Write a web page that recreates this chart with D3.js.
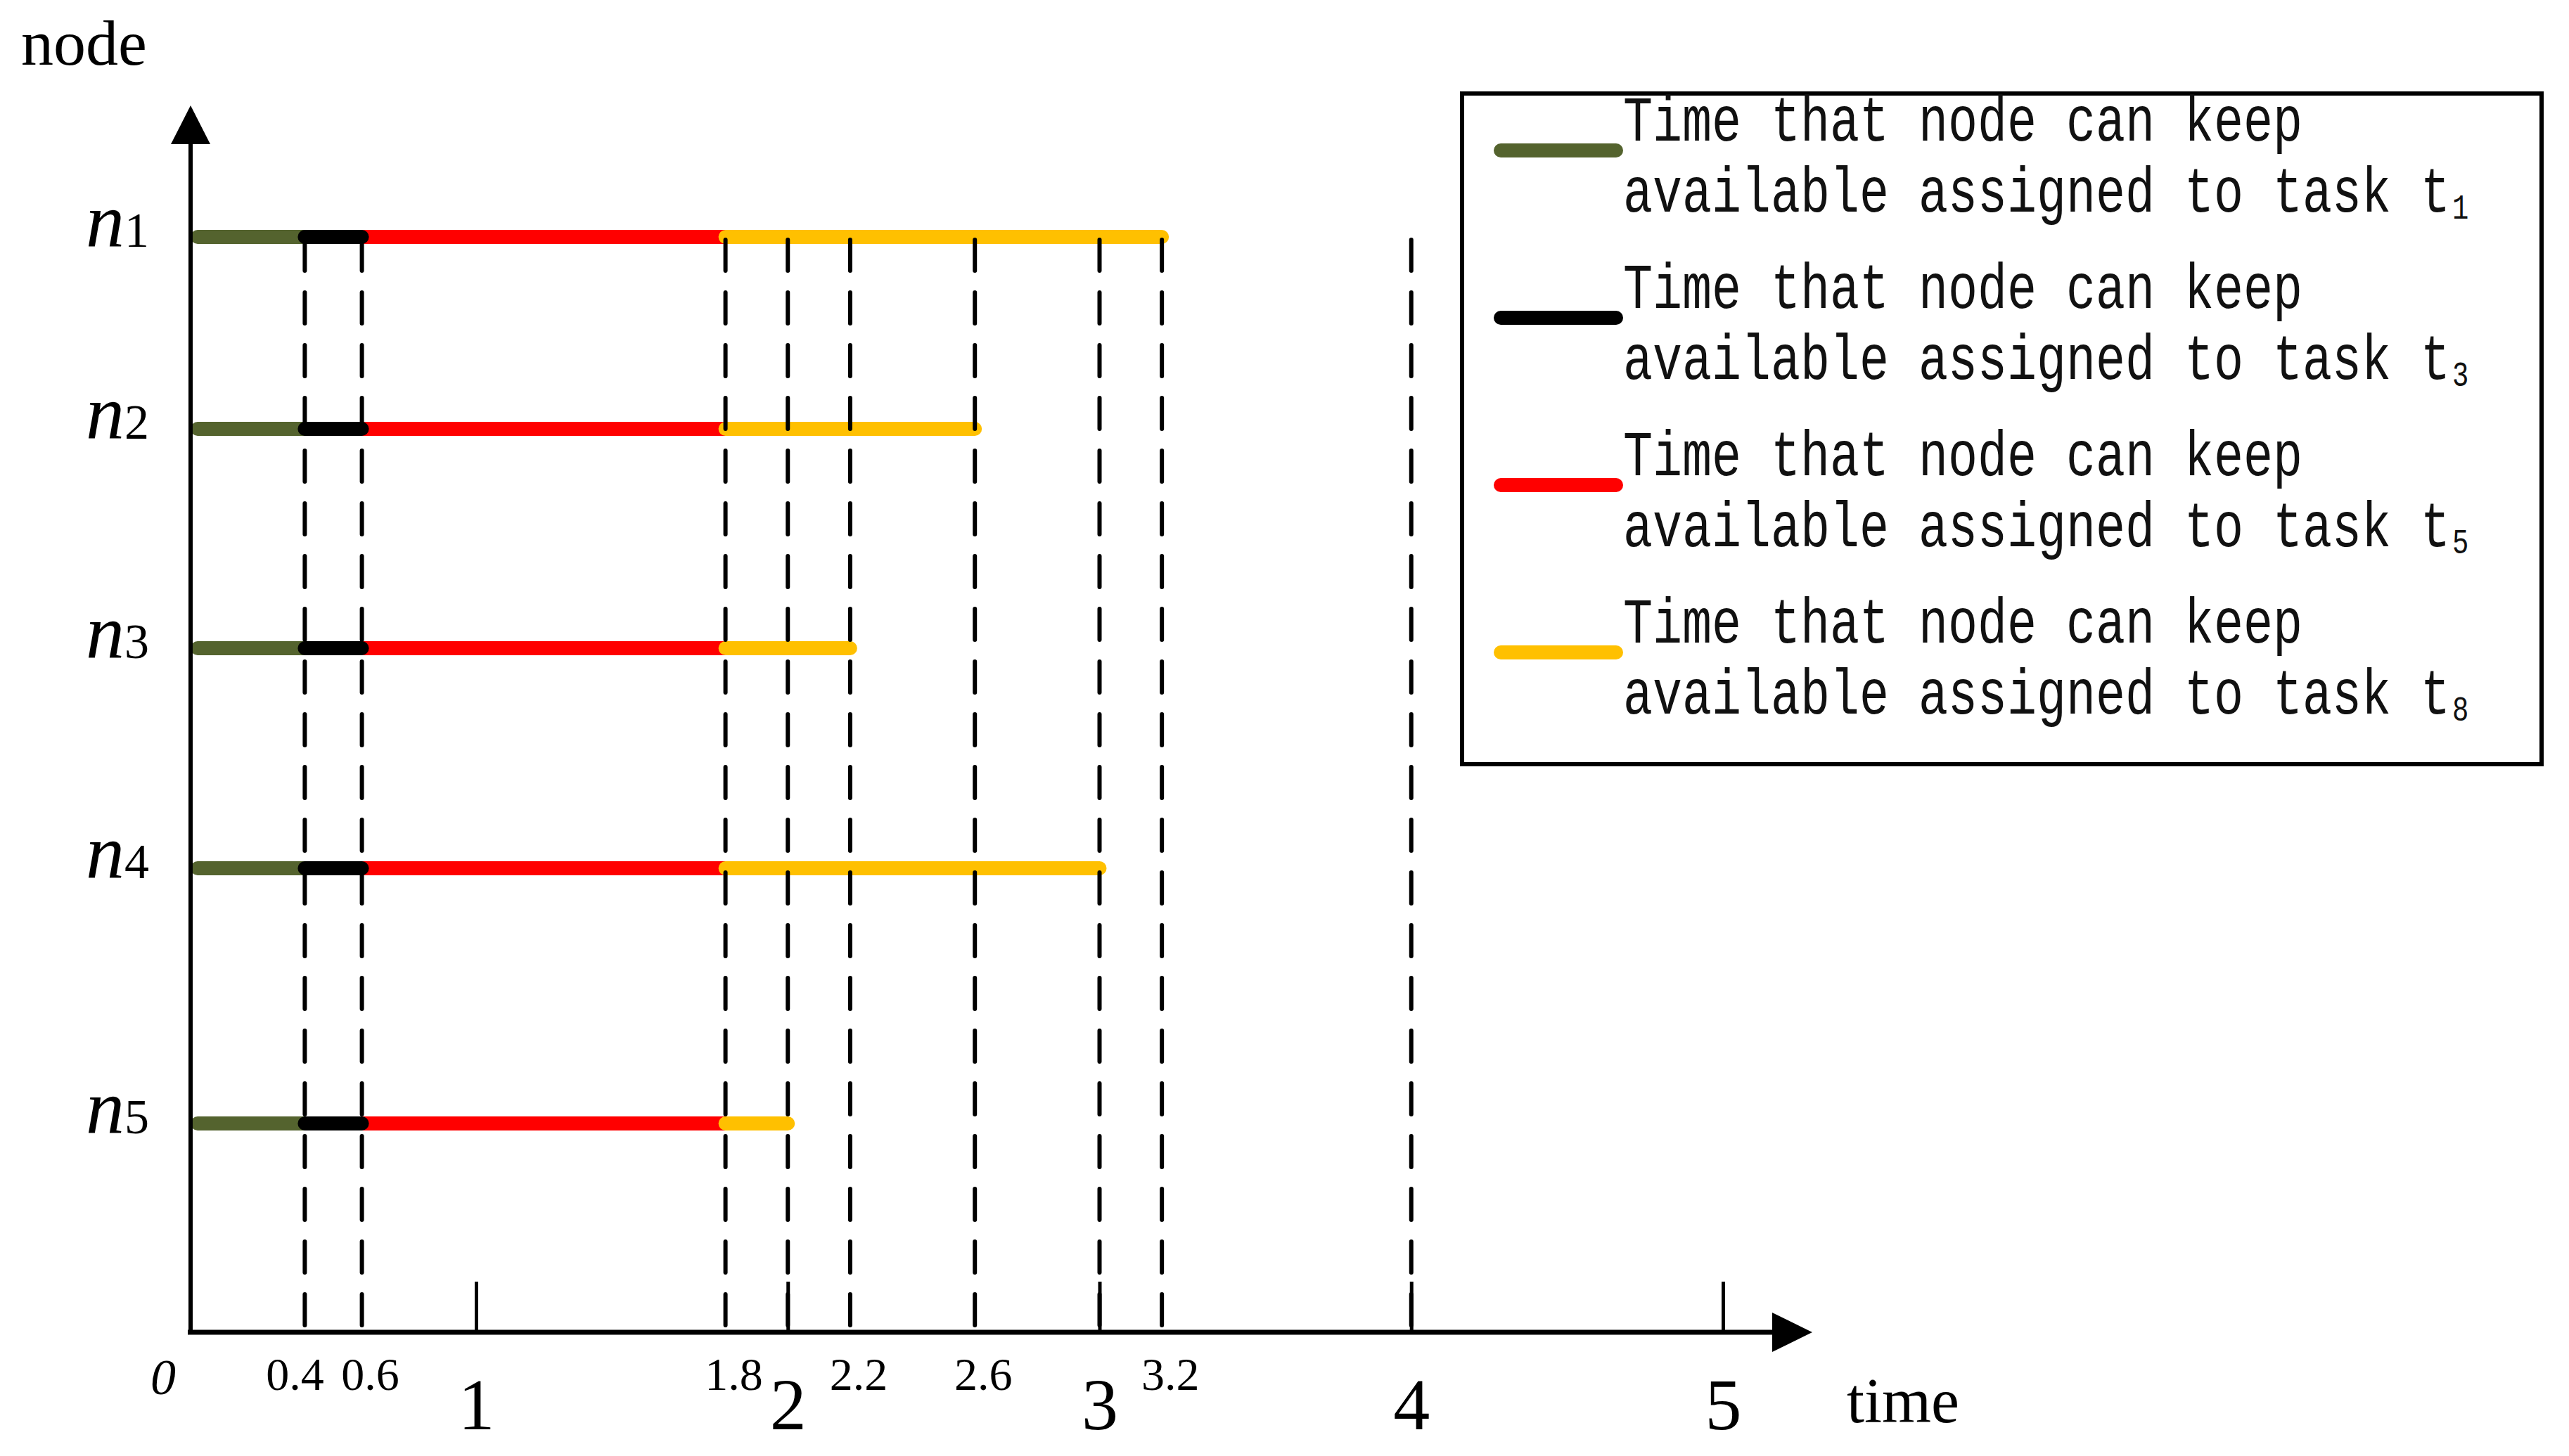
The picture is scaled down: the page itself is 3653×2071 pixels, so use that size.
<!DOCTYPE html>
<html><head><meta charset="utf-8">
<script src="https://cdn.jsdelivr.net/npm/d3@7"></script>
<style>html,body{margin:0;padding:0;background:#fff;overflow:hidden}</style>
</head><body><svg id="chart"></svg>
<script>
// ---------- data ----------
const nodes = ["n1","n2","n3","n4","n5"];
const nodeNumbers = ["1","2","3","4","5"];
const tasks = ["t1","t3","t5","t8"];
const taskSubs = ["1","3","5","8"];
const t1End = [0.4,0.4,0.4,0.4,0.4];
const t3End = [0.6,0.6,0.6,0.6,0.6];
const t5End = [1.8,1.8,1.8,1.8,1.8];
const t8End = [3.2,2.6,2.2,3.0,2.0];
const markTimes = [0.4,0.6,1.8,2,2.2,2.6,3,3.2,4];
const majorTicks = [1,2,3,4,5];
const minorLabels = [0.4,0.6,1.8,2.2,2.6,3.2];
const legendLine1 = "Time that node can keep";
const legendLine2 = "available assigned to task t";

// ---------- style / layout ----------
const W = 3653, H = 2071;
const taskColors = ["#54632e","#000000","#ff0000","#ffc000"];
const drawOrder = [0,2,1,3];
const axisY = 1895, axisX0 = 271;
const rowPositions = [337, 610, 922, 1235, 1598];   // hand-drawn row layout
const serif = "'Liberation Serif','Times New Roman',serif";
const mono = "'Liberation Mono','Courier New',monospace";

const svg = d3.select("#chart").attr("width", W).attr("height", H)
  .style("background","#fff");

// hand-drawn axis: first unit slightly shorter than the rest
const x = d3.scaleLinear().domain([0,1,5]).range([axisX0, 677, 2450]);
const y = d3.scaleOrdinal().domain(nodes).range(rowPositions);

// ---------- bars ----------
const segs = [];
nodes.forEach((n,i) => {
  const starts = [0, t1End[i], t3End[i], t5End[i]];
  const ends = [t1End[i], t3End[i], t5End[i], t8End[i]];
  drawOrder.forEach(k => segs.push({node:n, k, s:starts[k], e:ends[k]}));
});
svg.append("g").selectAll("line").data(segs).join("line")
  .attr("x1", d => d.s === 0 ? x(d.s) + 10 : x(d.s))
  .attr("x2", d => x(d.e))
  .attr("y1", d => y(d.node)).attr("y2", d => y(d.node))
  .attr("stroke", d => taskColors[d.k])
  .attr("stroke-width", 20)
  .attr("stroke-linecap", "round");

// ---------- dashed guide lines ----------
svg.append("g").selectAll("line").data(markTimes).join("line")
  .attr("x1", d => x(d)).attr("x2", d => x(d))
  .attr("y1", y("n1") + 4).attr("y2", d => d === 2.2 ? axisY + 16 : axisY)
  .attr("stroke", "#000").attr("stroke-width", 6)
  .attr("stroke-linecap", "round")
  .attr("stroke-dasharray", "44,31");

// ---------- x axis ----------
const gx = svg.append("g").attr("transform", `translate(0,${axisY})`)
  .call(d3.axisBottom(x).tickValues(majorTicks).tickSizeInner(-72).tickSizeOuter(0)
    .tickFormat(d3.format("d")));
gx.select(".domain").remove();
gx.selectAll(".tick line").attr("stroke","#000").attr("stroke-width",5);
gx.selectAll(".tick text").attr("y", 138).attr("dy", 0)
  .attr("font-family", serif).attr("font-size", 104).attr("fill","#000");

svg.append("line").attr("x1", axisX0 - 4).attr("x2", 2525)
  .attr("y1", axisY).attr("y2", axisY)
  .attr("stroke","#000").attr("stroke-width", 7);
svg.append("path")
  .attr("d", `M2577,${axisY} L2520,${axisY-28} L2520,${axisY+28} Z`).attr("fill","#000");

// origin label
svg.append("text").attr("x", 232).attr("y", 1983).attr("text-anchor","middle")
  .attr("font-family", serif).attr("font-style","italic").attr("font-size", 72).text("0");

// minor labels
const minorDx = v => v === 0.4 ? -14 : 12;
svg.append("g").selectAll("text").data(minorLabels).join("text")
  .attr("x", d => x(d) + minorDx(d)).attr("y", 1977).attr("text-anchor","middle")
  .attr("font-family", serif).attr("font-size", 66).text(d => d3.format(".1f")(d));

// x title
svg.append("text").attr("x", 2626).attr("y", 2023)
  .attr("font-family", serif).attr("font-size", 90).text("time");

// ---------- y axis ----------
svg.append("line").attr("x1", axisX0).attr("x2", axisX0)
  .attr("y1", axisY + 3).attr("y2", 200)
  .attr("stroke","#000").attr("stroke-width", 6);
svg.append("path")
  .attr("d", `M${axisX0},150 L${axisX0-28},205 L${axisX0+28},205 Z`).attr("fill","#000");
svg.append("text").attr("x", 30).attr("y", 92)
  .attr("font-family", serif).attr("font-size", 92).text("node");

// node labels
const nl = svg.append("g").selectAll("text").data(nodes).join("text")
  .attr("x", 122).attr("y", d => y(d) + 14)
  .attr("font-family", serif);
nl.append("tspan").attr("font-style","italic").attr("font-size", 110).text("n");
nl.append("tspan").attr("font-size", 70).text((d,i) => nodeNumbers[i]);

// ---------- legend ----------
const lg = svg.append("g");
lg.append("rect").attr("x", 2079).attr("y", 133).attr("width", 1535).attr("height", 954)
  .attr("fill","#fff").attr("stroke","#000").attr("stroke-width", 6);
const lgFont = 90, charW = 42, sx = charW / (0.6 * lgFont);
const lx = 2308, lStep = 238, lTop = 200;
tasks.forEach((t,i) => {
  const b = lTop + i * lStep;
  lg.append("line").attr("x1", 2134).attr("x2", 2298)
    .attr("y1", b + 14).attr("y2", b + 14)
    .attr("stroke", taskColors[i]).attr("stroke-width", 20).attr("stroke-linecap","round");
  lg.append("text").attr("transform", `translate(${lx},${b}) scale(${sx},1)`)
    .attr("font-family", mono).attr("font-size", lgFont).attr("fill","#111")
    .text(legendLine1);
  lg.append("text").attr("transform", `translate(${lx},${b + 101}) scale(${sx},1)`)
    .attr("font-family", mono).attr("font-size", lgFont).attr("fill","#111")
    .text(legendLine2);
  lg.append("text")
    .attr("transform", `translate(${lx + legendLine2.length * charW + 3},${b + 111}) scale(${sx},1)`)
    .attr("font-family", mono).attr("font-size", 50).attr("fill","#111")
    .text(taskSubs[i]);
});
</script>
</body></html>
